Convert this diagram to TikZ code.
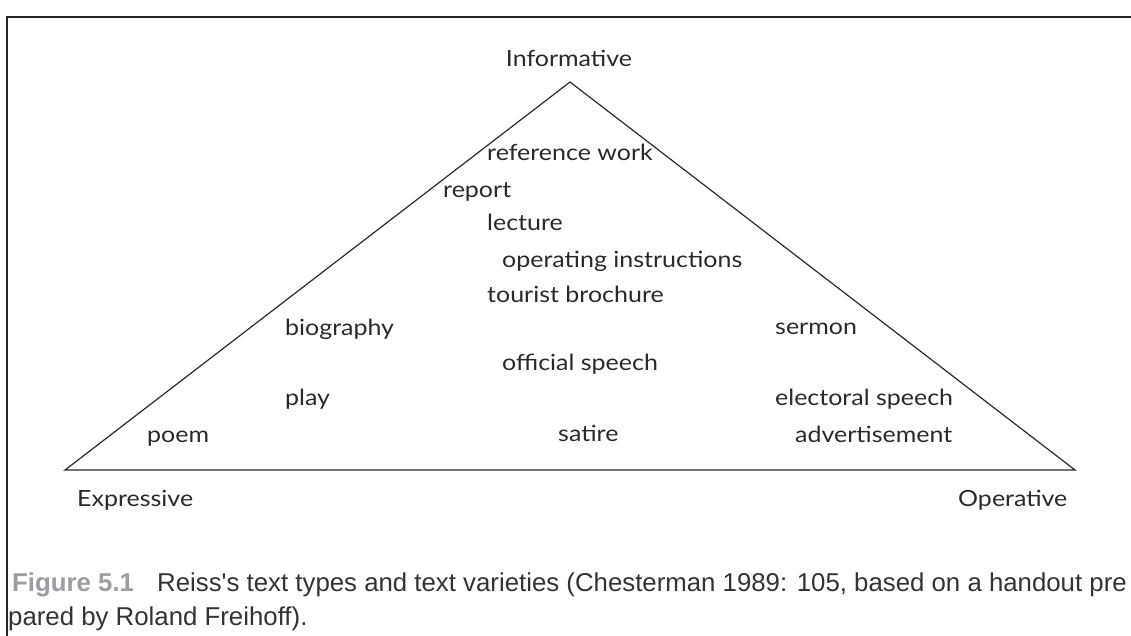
\documentclass[tikz,border=0pt]{standalone}
\usepackage{fontspec}
\setmainfont{Lato}[FakeStretch=1.12]
\newfontfamily\capfont{Liberation Sans}
\definecolor{txt}{HTML}{2A2A2A}
\definecolor{figgrey}{HTML}{9A9DA2}
\begin{document}
\begin{tikzpicture}[x=1pt,y=-1pt,
  lbl/.style={anchor=mid west,inner sep=0pt,text=txt,font=\fontsize{22.3}{25}\selectfont},
  captxt/.style={anchor=mid west,inner sep=0pt,text=black!80,font=\capfont\fontsize{25.8}{29}\selectfont},
  triline/.style={draw=txt,line width=1.2pt},
  framel/.style={draw=black!85,line width=2.2pt}]
\useasboundingbox (0,0) rectangle (1131,635);
\clip (0,0) rectangle (1131,635);
% frame (left and top)
\coordinate (fbl) at (7,640);
\coordinate (ftl) at (7,17);
\coordinate (ftr) at (1140,17);
\draw[framel] (fbl) -- (ftl) -- (ftr);
% triangle
\coordinate (top) at (570,82);
\coordinate (lft) at (65,470);
\coordinate (rgt) at (1075,470);
\draw[triline,line join=miter] (top) -- (rgt) -- (lft) -- cycle;
% corner labels
\node[lbl,anchor=mid] (inf) at (569,64) {Informative};
\node[lbl] (exp) at (77,504) {Expressive};
\node[lbl] (ope) at (958,504) {Operative};
% text varieties
\node[lbl] (ref) at (487,158) {reference work};
\node[lbl] (rep) at (443,195) {report};
\node[lbl] (lec) at (487,228) {lecture};
\node[lbl] (opi) at (502,265) {operating instructions};
\node[lbl] (tou) at (487,300) {tourist brochure};
\node[lbl] (bio) at (285,333) {biography};
\node[lbl] (ser) at (775,332) {sermon};
\node[lbl] (off) at (502,368) {official speech};
\node[lbl] (pla) at (285,403) {play};
\node[lbl] (ele) at (775,403) {electoral speech};
\node[lbl] (poe) at (147,440) {poem};
\node[lbl] (sat) at (558,439) {satire};
\node[lbl] (adv) at (795,440) {advertisement};
% caption
\node[captxt,text=figgrey] (fig) at (12,589) {\bfseries Figure 5.1};
\node[captxt] (c1) at (157,589) {Reiss's text types and text varieties (Chesterman 1989: 105, based on a handout pre};
\node[captxt] (c2) at (8,623) {pared by Roland Freihoff).};
\end{tikzpicture}
\end{document}
